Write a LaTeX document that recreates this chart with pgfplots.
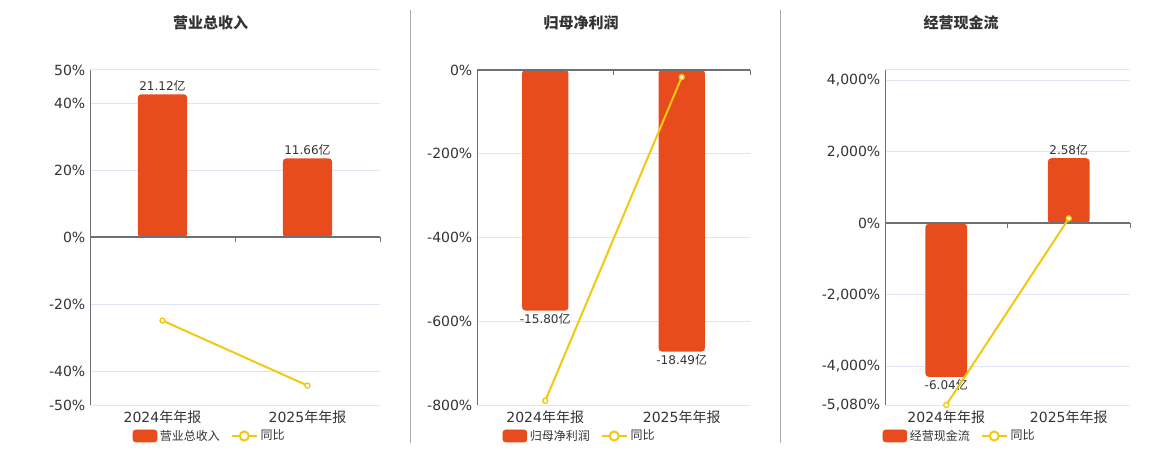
\documentclass[border=0pt]{standalone}
\usepackage{pgfplots}
\pgfplotsset{compat=1.18}
\usepackage{fontspec}
\setmainfont{DejaVu Sans}
\newfontfamily\cjk{Noto Sans CJK SC}
\definecolor{barorange}{RGB}{232,75,28}
\definecolor{gold}{RGB}{242,200,17}
\definecolor{gridcol}{RGB}{224,230,241}
\definecolor{axisgray}{RGB}{110,112,121}
\definecolor{txt}{RGB}{51,51,51}
\definecolor{sepcol}{RGB}{170,170,170}
\pgfplotsset{
  pctaxis/.style={scale only axis, anchor=south west, height=251.25pt,
    xmin=-0.5, xmax=1.5, enlargelimits=false, axis lines*=left,
    x axis line style={draw=none}, y axis line style={draw=axisgray, line width=0.75pt},
    ymajorgrids, grid style={gridcol, line width=0.75pt}, major tick length=0pt,
    xtick={0,1}, xticklabels={2024{\cjk 年年报},2025{\cjk 年年报}},
    tick label style={font=\fontsize{10.5}{12}\selectfont, text=txt},
    xticklabel style={yshift=-1pt}},
  baraxis/.style={scale only axis, anchor=south west, height=251.25pt,
    xmin=-0.5, xmax=1.5, enlargelimits=false, hide axis, clip=false,
    ybar, bar width=0.34, point meta=y,
    nodes near coords={\pgfmathprintnumber[fixed,precision=2,fixed zerofill,assume math mode=true]{\pgfplotspointmeta}{\cjk 亿}},
    nodes near coords align=vertical,
    every node near coord/.append style={font=\fontsize{9}{10}\selectfont, text=txt, inner sep=2pt}},
  lineaxis/.style={scale only axis, anchor=south west, height=251.25pt,
    xmin=-0.5, xmax=1.5, enlargelimits=false, hide axis, clip=false,
    legend style={draw=none, fill=none, legend columns=-1,
      font=\fontsize{9}{10}\selectfont, text=txt, anchor=center, inner sep=0pt,
      /tikz/every even column/.append style={column sep=6pt}}},
  barst/.style={fill=barorange, draw=none, rounded corners=2.5pt},
  yoy/.style={gold, line width=1.5pt, mark=*, mark size=1.9pt,
    mark options={fill=white, draw=gold, line width=1pt},
    legend image code/.code={\draw[gold, line width=1.5pt] (0pt,0pt) -- (19pt,0pt);
      \draw[gold, line width=1.5pt, fill=white] (9.5pt,0pt) circle (3.4pt);}},
  barleg/.style={legend image code/.code={\fill[barorange, rounded corners=2pt] (0pt,-4.5pt) rectangle (18pt,4.5pt);}},
}
\begin{document}
\begin{tikzpicture}[x=0.75pt,y=0.75pt]
\useasboundingbox (0,0) rectangle (1160,450);
\draw[sepcol, line width=0.75pt] (410.5,440) -- (410.5,7);
\draw[sepcol, line width=0.75pt] (780.5,440) -- (780.5,7);
\node[font=\cjk\bfseries\fontsize{11.25}{13}\selectfont, text=txt] at (210.5,427) {营业总收入};
\node[font=\cjk\bfseries\fontsize{11.25}{13}\selectfont, text=txt] at (581,427) {归母净利润};
\node[font=\cjk\bfseries\fontsize{11.25}{13}\selectfont, text=txt] at (961,427) {经营现金流};

% ---------- Panel 1 ----------
\begin{axis}[pctaxis, at={(67.5pt,33.75pt)}, width=217.5pt, ymin=-50, ymax=50,
  ytick={-50,-40,-20,0,20,40,50}, yticklabels={-50\%,-40\%,-20\%,0\%,20\%,40\%,50\%}]
\end{axis}
\begin{axis}[baraxis, at={(67.5pt,33.75pt)}, width=217.5pt, ymin=-24.7, ymax=24.7]
\addplot[barst] coordinates {(0,21.12) (1,11.66)};
\end{axis}
\begin{axis}[lineaxis, at={(67.5pt,33.75pt)}, width=217.5pt, ymin=-50, ymax=50,
  legend style={at={(axis description cs:0.4138,-0.0925)}}]
\draw[axisgray, line width=1.5pt] (axis cs:-0.5,0) -- (axis cs:1.5,0);
\draw[axisgray, line width=0.75pt] (axis cs:0.5,0) -- ++(0pt,-3.75pt);
\draw[axisgray, line width=0.75pt] (axis cs:1.5,0) -- ++(0pt,-3.75pt);
\addlegendimage{barleg}\addlegendentry{\cjk 营业总收入}
\addplot[yoy] coordinates {(0,-24.8) (1,-44.2)};
\addlegendentry{\cjk 同比}
\end{axis}

% ---------- Panel 2 ----------
\begin{axis}[pctaxis, at={(357.75pt,33.75pt)}, width=204.75pt, ymin=-800, ymax=0,
  ytick={-800,-600,-400,-200,0}, yticklabels={-800\%,-600\%,-400\%,-200\%,0\%}]
\end{axis}
\begin{axis}[baraxis, at={(357.75pt,33.75pt)}, width=204.75pt, ymin=-22.0, ymax=0]
\addplot[barst] coordinates {(0,-15.80) (1,-18.49)};
\end{axis}
\begin{axis}[lineaxis, at={(357.75pt,33.75pt)}, width=204.75pt, ymin=-800, ymax=0,
  legend style={at={(axis description cs:0.377,-0.0925)}}]
\draw[axisgray, line width=1.5pt] (axis cs:-0.5,0) -- (axis cs:1.5,0);
\draw[axisgray, line width=0.75pt] (axis cs:0.5,0) -- ++(0pt,-3.75pt);
\draw[axisgray, line width=0.75pt] (axis cs:1.5,0) -- ++(0pt,-3.75pt);
\addlegendimage{barleg}\addlegendentry{\cjk 归母净利润}
\addplot[yoy] coordinates {(0,-790) (1,-17)};
\addlegendentry{\cjk 同比}
\end{axis}

% ---------- Panel 3 ----------
\begin{axis}[pctaxis, at={(663.75pt,33.75pt)}, width=183.75pt, ymin=-5080, ymax=4294,
  ytick={-5080,-4000,-2000,0,2000,4000,4294},
  yticklabels={{-5,080\%},{-4,000\%},{-2,000\%},{0\%},{2,000\%},{4,000\%},{}}]
\end{axis}
\begin{axis}[baraxis, at={(663.75pt,33.75pt)}, width=183.75pt, ymin=-7.15, ymax=6.06]
\addplot[barst] coordinates {(0,-6.04) (1,2.58)};
\end{axis}
\begin{axis}[lineaxis, at={(663.75pt,33.75pt)}, width=183.75pt, ymin=-5080, ymax=4294,
  legend style={at={(axis description cs:0.306,-0.0925)}}]
\draw[axisgray, line width=1.5pt] (axis cs:-0.5,0) -- (axis cs:1.5,0);
\draw[axisgray, line width=0.75pt] (axis cs:0.5,0) -- ++(0pt,-3.75pt);
\draw[axisgray, line width=0.75pt] (axis cs:1.5,0) -- ++(0pt,-3.75pt);
\addlegendimage{barleg}\addlegendentry{\cjk 经营现金流}
\addplot[yoy] coordinates {(0,-5080) (1,140)};
\addlegendentry{\cjk 同比}
\end{axis}
\end{tikzpicture}
\end{document}
